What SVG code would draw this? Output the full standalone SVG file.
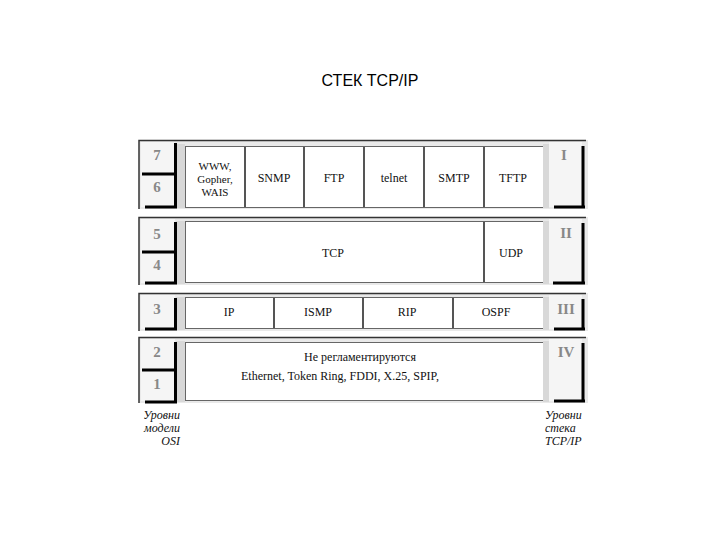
<svg xmlns="http://www.w3.org/2000/svg" width="720" height="540" viewBox="0 0 720 540">
<style>
.band{fill:#e9e9e9;stroke:none}
.edge{stroke:#333;stroke-width:1.5;fill:none}
.osi{fill:#f5f5f5}
.sh{stroke:#000;stroke-width:3;fill:none}
.strip{fill:#d8d8d8}
.cell{fill:#fff;stroke:#666;stroke-width:1}
.sep{stroke:#555;stroke-width:2}
.num{font-family:"Liberation Serif",serif;font-size:15px;font-weight:bold;fill:#888;text-anchor:middle}
.t{font-family:"Liberation Serif",serif;font-size:12px;fill:#111;text-anchor:middle}
.s{font-size:11px}
.lab{font-family:"Liberation Serif",serif;font-size:12px;font-style:italic;fill:#111}
.title{font-family:"Liberation Sans",sans-serif;font-size:16px;fill:#000;text-anchor:middle}
</style>
<text class="title" x="370" y="86">СТЕК TCP/IP</text>

<g id="band1">
<rect class="band" x="139" y="140" width="449" height="69"/>
<path class="edge" d="M139,209 V140.5 H586"/>
<rect class="osi" x="141" y="142" width="34" height="65"/>
<rect class="strip" x="176" y="144" width="9" height="64"/>
<rect class="cell" x="185.5" y="146.5" width="358" height="61"/>
<path class="sep" d="M245,147 V207 M304,147 V207 M364,147 V207 M424,147 V207 M484,147 V207"/>
<rect class="strip" x="543" y="144" width="6" height="64"/>
<rect class="osi" x="549" y="142" width="33" height="65"/>
<path class="sh" d="M175.5,143 V207 M142,174 H177 M145,207 H177 M583,146 V208 M554,207 H585"/>
<text class="num" x="157" y="160">7</text>
<text class="num" x="157" y="192">6</text>
<text class="num" x="564" y="160">I</text>
<text class="t s" x="215" y="170">WWW,</text>
<text class="t s" x="215" y="183">Gopher,</text>
<text class="t s" x="215" y="196">WAIS</text>
<text class="t" x="274" y="182">SNMP</text>
<text class="t" x="334" y="182">FTP</text>
<text class="t" x="394" y="182">telnet</text>
<text class="t" x="454" y="182">SMTP</text>
<text class="t" x="513" y="182">TFTP</text>
</g>

<g id="band2">
<rect class="band" x="139" y="217" width="449" height="68"/>
<path class="edge" d="M139,285 V217.5 H586"/>
<rect class="osi" x="141" y="219" width="34" height="64"/>
<rect class="strip" x="176" y="221" width="9" height="63"/>
<rect class="cell" x="185.5" y="221.5" width="358" height="61"/>
<path class="sep" d="M484,222 V282"/>
<rect class="strip" x="543" y="221" width="6" height="63"/>
<rect class="osi" x="549" y="219" width="33" height="64"/>
<path class="sh" d="M175.5,222 V283 M142,252 H177 M145,283 H177 M583,223 V284 M553,283 H585"/>
<text class="num" x="157" y="239">5</text>
<text class="num" x="157" y="270">4</text>
<text class="num" x="566" y="238">II</text>
<text class="t" x="333" y="257">TCP</text>
<text class="t" x="511" y="257">UDP</text>
</g>

<g id="band3">
<rect class="band" x="139" y="293" width="449" height="38"/>
<path class="edge" d="M139,331 V293.5 H586"/>
<rect class="osi" x="141" y="295" width="34" height="34"/>
<rect class="strip" x="176" y="297" width="9" height="33"/>
<rect class="cell" x="185.5" y="297.5" width="358" height="31"/>
<path class="sep" d="M274,298 V328 M363,298 V328 M453,298 V328"/>
<rect class="strip" x="543" y="297" width="6" height="33"/>
<rect class="osi" x="549" y="295" width="33" height="34"/>
<path class="sh" d="M175.5,298 V329 M145,329 H177 M583,299 V330 M554,329 H585"/>
<text class="num" x="157" y="314">3</text>
<text class="num" x="566" y="314">III</text>
<text class="t" x="229" y="316">IP</text>
<text class="t" x="318" y="316">ISMP</text>
<text class="t" x="407" y="316">RIP</text>
<text class="t" x="496" y="316">OSPF</text>
</g>

<g id="band4">
<rect class="band" x="139" y="337" width="449" height="66"/>
<path class="edge" d="M139,403 V337.5 H586"/>
<rect class="osi" x="141" y="339" width="34" height="62"/>
<rect class="strip" x="176" y="341" width="9" height="61"/>
<rect class="cell" x="185.5" y="342.5" width="358" height="58"/>
<rect class="strip" x="543" y="341" width="6" height="61"/>
<rect class="osi" x="549" y="339" width="33" height="62"/>
<path class="sh" d="M175.5,342 V402 M142,370 H177 M145,402 H177 M583,343 V402 M554,401 H585"/>
<text class="num" x="157" y="357">2</text>
<text class="num" x="157" y="389">1</text>
<text class="num" x="566" y="357">IV</text>
<text class="t" x="360" y="361">Не регламентируются</text>
<text class="t" x="340" y="380">Ethernet, Token Ring, FDDI, X.25, SPIP,</text>
</g>

<g id="labels">
<text class="lab" x="180" y="419" text-anchor="end">Уровни</text>
<text class="lab" x="180" y="432" text-anchor="end">модели</text>
<text class="lab" x="180" y="445" text-anchor="end">OSI</text>
<text class="lab" x="545" y="419">Уровни</text>
<text class="lab" x="545" y="432">стека</text>
<text class="lab" x="545" y="445">TCP/IP</text>
</g>
</svg>
